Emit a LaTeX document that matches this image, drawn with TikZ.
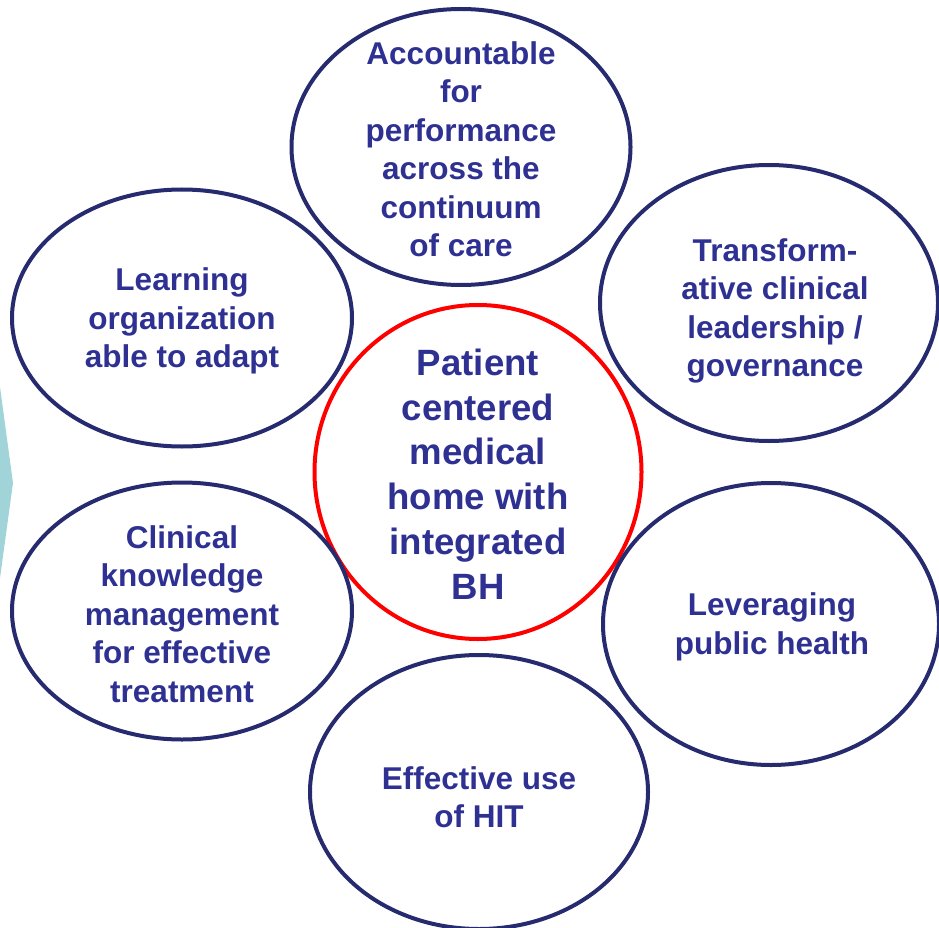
\documentclass[tikz,border=0pt]{standalone}
\usepackage{fontspec}
\setmainfont{Liberation Sans}
\usetikzlibrary{shapes.geometric}
\definecolor{navy}{RGB}{38,42,110}
\definecolor{txt}{RGB}{46,49,146}
\definecolor{teal}{RGB}{160,212,216}
\tikzset{
  bubble/.style={ellipse, draw=navy, line width=4pt, inner sep=0pt},
  core/.style={ellipse, draw=red, line width=4pt, inner sep=0pt},
  lbl/.style={text=txt, font=\fontsize{31.5}{38.5}\selectfont\bfseries, align=center, inner sep=0pt},
  biglbl/.style={text=txt, font=\fontsize{36.6}{44.8}\selectfont\bfseries, align=center, inner sep=0pt}
}
\begin{document}
\begin{tikzpicture}[x=1pt,y=-1pt]
\useasboundingbox (0,0) rectangle (939,928);
\fill[teal] (0,387) -- (13,483) -- (0,578) -- cycle;
\node[bubble, minimum width=339, minimum height=276] (top) at (461,147) {};
\node[bubble, minimum width=338, minimum height=276] (trans) at (769,303) {};
\node[bubble, minimum width=340, minimum height=257] (learn) at (182,318) {};
\node[core, minimum width=327, minimum height=334] (center) at (478,472) {};
\node[bubble, minimum width=340, minimum height=257] (clin) at (182,611) {};
\node[bubble, minimum width=336, minimum height=282] (lev) at (771,624) {};
\node[bubble, minimum width=338, minimum height=274] (hit) at (479,792) {};
\node[lbl] (ttop) at (461,149) {Accountable\\for\\performance\\across the\\continuum\\of care};
\node[lbl] (ttrans) at (775,311) {Transform-\\ative clinical\\leadership /\\governance};
\node[lbl] (tlearn) at (182,321) {Learning\\organization\\able to adapt};
\node[biglbl] (tcenter) at (478,474) {Patient\\centered\\medical\\home with\\integrated\\BH};
\node[lbl] (tclin) at (182,614) {Clinical\\knowledge\\management\\for effective\\treatment};
\node[lbl] (tlev) at (772,627) {Leveraging\\public health};
\node[lbl] (thit) at (479,797) {Effective use\\of HIT};
\end{tikzpicture}
\end{document}
